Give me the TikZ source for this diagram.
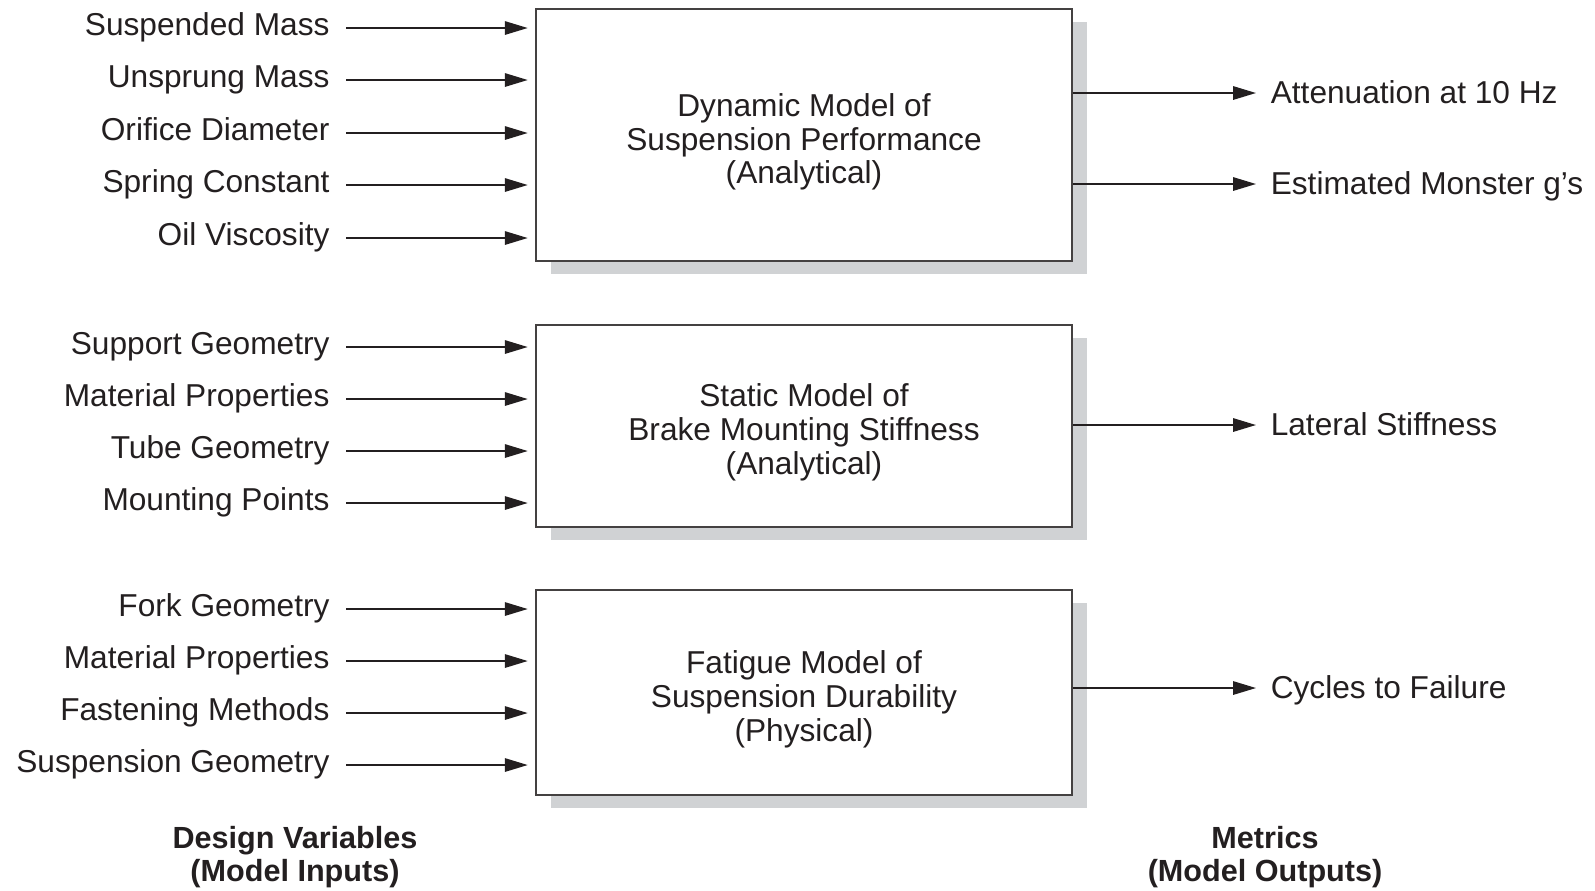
\documentclass[tikz,border=0pt]{standalone}
\usepackage{fontspec}
\setmainfont{Liberation Sans}
\usetikzlibrary{arrows.meta,shadows}
\definecolor{ink}{RGB}{35,31,32}
\definecolor{shade}{RGB}{208,210,212}

\begin{document}
\begin{tikzpicture}[x=0.01cm,y=-0.01cm,
        font=\fontsize{9}{9.5}\selectfont, text=ink,
        >={Triangle[length=6.5pt,width=3.8pt]},
        model/.style={draw=ink!85, line width=0.6pt, fill=white,
            minimum width=5.36cm,
            drop shadow={shadow xshift=0.15cm, shadow yshift=-0.13cm,
                fill=shade, opacity=1}},
        modeltext/.style={align=center, font=\fontsize{9}{9.6}\selectfont},
        invar/.style={anchor=east, inner xsep=4.5pt, text height=4.2pt, text depth=0pt},
        outvar/.style={anchor=west, inner xsep=4pt, text height=6pt, text depth=0pt},
        legend/.style={align=center, font=\fontsize{8.7}{9.5}\selectfont\bfseries},
        link/.style={->, draw=ink, line width=0.5pt}]
        \useasboundingbox (0,0) rectangle (1595,890);

        % models
        \node[model, minimum height=2.52cm] (dyn) at (804,135) {};
        \node[model, minimum height=2.025cm] (stat) at (804,426) {};
        \node[model, minimum height=2.05cm] (fat) at (804,692.5) {};
        \node[modeltext] (dyntxt) at ([yshift=-0.07cm]dyn.center)
            {Dynamic Model of\\Suspension Performance\\(Analytical)};
        \node[modeltext] (stattxt) at ([yshift=-0.065cm]stat.center)
            {Static Model of\\Brake Mounting Stiffness\\(Analytical)};
        \node[modeltext] (fattxt) at ([yshift=-0.07cm]fat.center)
            {Fatigue Model of\\Suspension Durability\\(Physical)};

        % design variables
        \node[invar] (sm) at (346,28) {Suspended Mass};
        \node[invar] (um) at (346,80) {Unsprung Mass};
        \node[invar] (od) at (346,133) {Orifice Diameter};
        \node[invar] (sc) at (346,185) {Spring Constant};
        \node[invar] (ov) at (346,238) {Oil Viscosity};

        \node[invar] (sg) at (346,347) {Support Geometry};
        \node[invar] (mps) at (346,399) {Material Properties};
        \node[invar] (tg) at (346,451) {Tube Geometry};
        \node[invar] (mpt) at (346,503) {Mounting Points};

        \node[invar] (fg) at (346,609) {Fork Geometry};
        \node[invar] (mpf) at (346,661) {Material Properties};
        \node[invar] (fm) at (346,713) {Fastening Methods};
        \node[invar] (sug) at (346,765) {Suspension Geometry};

        % metrics
        \node[outvar] (att) at (1256,93) {Attenuation at 10 Hz};
        \node[outvar] (emg) at (1256,184) {Estimated Monster g's};
        \node[outvar] (lat) at (1256,425) {Lateral Stiffness};
        \node[outvar] (ctf) at (1256,688) {Cycles to Failure};

        \node[legend] (dv) at (295,857) {Design Variables\\(Model Inputs)};
        \node[legend] (mo) at (1265,857) {Metrics\\(Model Outputs)};

        \draw[link, shorten >=2pt] (sm) -- (sm -| dyn.west);
        \draw[link, shorten >=2pt] (um) -- (um -| dyn.west);
        \draw[link, shorten >=2pt] (od) -- (od -| dyn.west);
        \draw[link, shorten >=2pt] (sc) -- (sc -| dyn.west);
        \draw[link, shorten >=2pt] (ov) -- (ov -| dyn.west);
        \draw[link, shorten >=2pt] (sg) -- (sg -| stat.west);
        \draw[link, shorten >=2pt] (mps) -- (mps -| stat.west);
        \draw[link, shorten >=2pt] (tg) -- (tg -| stat.west);
        \draw[link, shorten >=2pt] (mpt) -- (mpt -| stat.west);
        \draw[link, shorten >=2pt] (fg) -- (fg -| fat.west);
        \draw[link, shorten >=2pt] (mpf) -- (mpf -| fat.west);
        \draw[link, shorten >=2pt] (fm) -- (fm -| fat.west);
        \draw[link, shorten >=2pt] (sug) -- (sug -| fat.west);

        \draw[link] (dyn.east |- att) -- (att);
        \draw[link] (dyn.east |- emg) -- (emg);
        \draw[link] (stat.east |- lat) -- (lat);
        \draw[link] (fat.east |- ctf) -- (ctf);
\end{tikzpicture}
\end{document}
